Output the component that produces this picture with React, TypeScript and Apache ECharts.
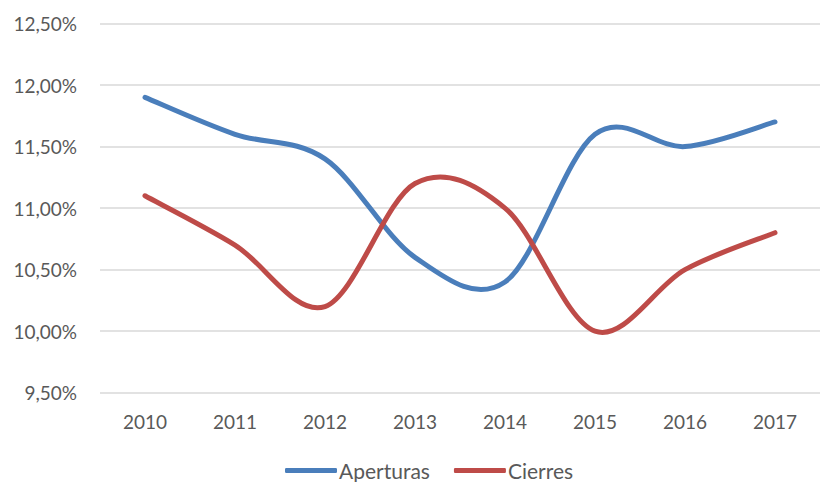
import React, { useEffect, useRef } from "react";
import * as echarts from "echarts";

const years = ["2010", "2011", "2012", "2013", "2014", "2015", "2016", "2017"];
const aperturas = [11.9, 11.6, 11.4, 10.6, 10.4, 11.6, 11.5, 11.7];
const cierres = [11.1, 10.7, 10.2, 11.2, 11.0, 10.0, 10.5, 10.8];

const BLUE = "#4a7ebb";
const RED = "#be4b48";

function smoothSeries(name: string, values: number[], color: string) {
  return {
    name,
    type: "custom",
    data: values.map((v, i) => [i, v]),
    encode: { x: 0, y: 1 },
    itemStyle: { color },
    renderItem: (params: any, api: any) => {
      if (params.dataIndex !== 0) return null;
      const p = values.map((v, i) => api.coord([i, v]));
      const n = p.length;
      const at = (i: number) => p[Math.max(0, Math.min(n - 1, i))];
      let d = `M${p[0][0]},${p[0][1]}`;
      for (let i = 0; i < n - 1; i++) {
        const p0 = at(i - 1), p1 = at(i), p2 = at(i + 1), p3 = at(i + 2);
        const c1x = p1[0] + (p2[0] - p0[0]) / 6;
        const c1y = p1[1] + (p2[1] - p0[1]) / 6;
        const c2x = p2[0] - (p3[0] - p1[0]) / 6;
        const c2y = p2[1] - (p3[1] - p1[1]) / 6;
        d += ` C${c1x},${c1y} ${c2x},${c2y} ${p2[0]},${p2[1]}`;
      }
      return {
        type: "path",
        shape: { pathData: d },
        style: { stroke: color, lineWidth: 5, fill: "none", lineCap: "round", lineJoin: "round" },
      };
    },
  };
}

export default function App() {
  const ref = useRef<HTMLDivElement>(null);
  useEffect(() => {
    const chart = echarts.init(ref.current!, null, { renderer: "svg" });
    const font = "Lato, 'Open Sans', sans-serif";
    chart.setOption({
      animation: false,
      textStyle: { fontFamily: font },
      grid: { left: 100, top: 23.5, width: 729, height: 369.2, containLabel: false },
      legend: {
        bottom: 1,
        padding: 0,
        left: 285,
        itemWidth: 52,
        itemHeight: 5,
        itemGap: 24,
        data: [
          { name: "Aperturas", icon: "roundRect", itemStyle: { color: BLUE } },
          { name: "Cierres", icon: "roundRect", itemStyle: { color: RED } },
        ],
        textStyle: { fontSize: 21, color: "#595959", fontFamily: font, padding: [0, 0, 0, -3] },
      },
      xAxis: {
        type: "category",
        data: years,
        boundaryGap: true,
        axisLine: { show: false },
        axisTick: { show: false },
        axisLabel: { color: "#595959", fontSize: 19, margin: 19, fontFamily: font },
      },
      yAxis: {
        type: "value",
        min: 9.5,
        max: 12.5,
        interval: 0.5,
        axisLine: { show: false },
        axisTick: { show: false },
        splitLine: { lineStyle: { color: "#d9d9d9", width: 1.5 } },
        axisLabel: {
          color: "#595959",
          fontSize: 19,
          margin: 23,
          fontFamily: font,
          formatter: (v: number) => v.toFixed(2).replace(".", ",") + "%",
        },
      },
      series: [smoothSeries("Aperturas", aperturas, BLUE), smoothSeries("Cierres", cierres, RED)],
    });
    return () => chart.dispose();
  }, []);
  return <div ref={ref} style={{ width: 820, height: 482, position: "absolute", left: 0, top: 0 }} />;
}
